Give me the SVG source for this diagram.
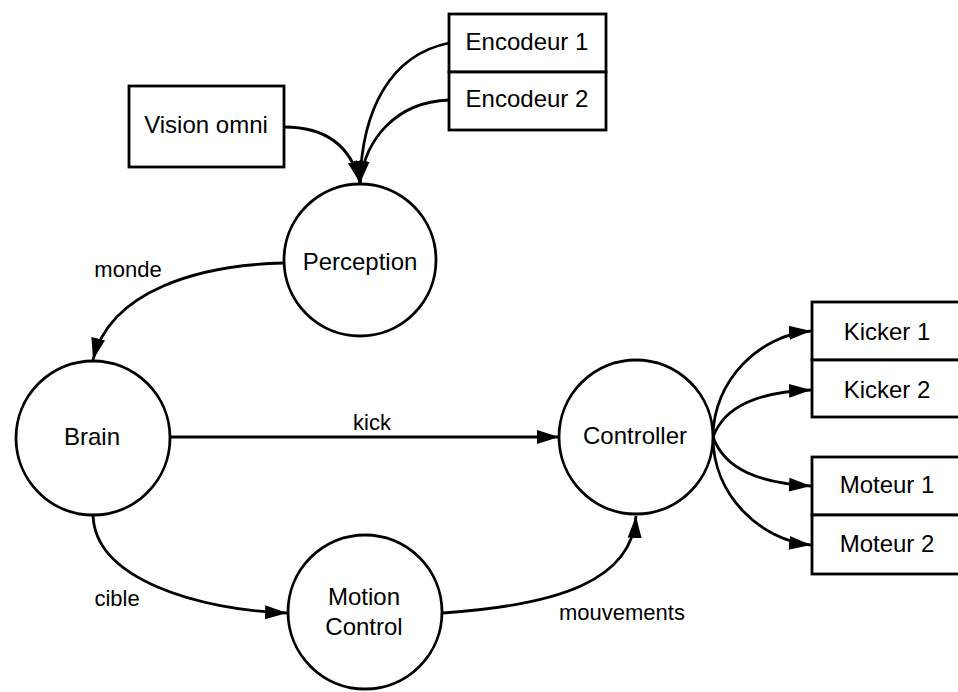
<svg xmlns="http://www.w3.org/2000/svg" width="958" height="692" viewBox="0 0 958 692">
<style>
.n{fill:#fff;stroke:#000;stroke-width:2.8}
.t{font-family:"Liberation Sans",Arial,sans-serif;font-size:24px;fill:#000;text-anchor:middle}
.l{font-family:"Liberation Sans",Arial,sans-serif;font-size:22px;fill:#000;text-anchor:middle}
.c{fill:none;stroke:#000;stroke-width:2.8}
</style>
<defs>
<marker id="a" markerUnits="userSpaceOnUse" markerWidth="24" markerHeight="16" refX="22" refY="8" orient="auto">
<path d="M0,1 L22,8 L0,15 z" fill="#000"/>
</marker>
</defs>
<rect width="958" height="692" fill="#fff"/>
<g id="connectors">
<path class="c" d="M449 43 C390 55 362 110 360 183" marker-end="url(#a)"/>
<path class="c" d="M449 100 C395 102 365 140 360 183" marker-end="url(#a)"/>
<path class="c" d="M284 127 C330 127 352 150 360 183" marker-end="url(#a)"/>
<path class="c" d="M284 263 C200 265 110 290 93 360" marker-end="url(#a)"/>
<path class="c" d="M170 437 L559 437" marker-end="url(#a)"/>
<path class="c" d="M93 515 C95 580 200 610 287 613" marker-end="url(#a)"/>
<path class="c" d="M443 613 C560 605 632 580 636 516" marker-end="url(#a)"/>
<path class="c" d="M713 437 C713 380 760 335 811 331" marker-end="url(#a)"/>
<path class="c" d="M713 437 C725 405 760 392 811 390" marker-end="url(#a)"/>
<path class="c" d="M713 437 C725 470 760 483 811 486" marker-end="url(#a)"/>
<path class="c" d="M713 437 C713 495 760 540 811 545" marker-end="url(#a)"/>
<text class="l" x="128" y="277">monde</text>
<text class="l" x="372" y="430">kick</text>
<text class="l" x="117" y="606">cible</text>
<text class="l" x="622" y="620">mouvements</text>
</g>
<g id="encodeur1"><rect class="n" x="449" y="14" width="157" height="58"/><text class="t" x="527" y="50">Encodeur 1</text></g>
<g id="encodeur2"><rect class="n" x="449" y="72" width="157" height="58"/><text class="t" x="527" y="107">Encodeur 2</text></g>
<g id="vision"><rect class="n" x="129" y="86" width="155" height="81"/><text class="t" x="206" y="133">Vision omni</text></g>
<g id="perception"><circle class="n" cx="360" cy="260" r="76"/><text class="t" x="360" y="270">Perception</text></g>
<g id="brain"><circle class="n" cx="93" cy="438" r="77"/><text class="t" x="92" y="445">Brain</text></g>
<g id="motion"><circle class="n" cx="365" cy="612" r="77"/><text class="t" x="364" y="605">Motion</text><text class="t" x="364" y="635">Control</text></g>
<g id="controller"><circle class="n" cx="636" cy="437" r="77"/><text class="t" x="635" y="444">Controller</text></g>
<g id="kicker1"><rect class="n" x="812" y="302" width="160" height="58"/><text class="t" x="887" y="340">Kicker 1</text></g>
<g id="kicker2"><rect class="n" x="812" y="360" width="160" height="57"/><text class="t" x="887" y="398">Kicker 2</text></g>
<g id="moteur1"><rect class="n" x="812" y="457" width="160" height="58"/><text class="t" x="887" y="493">Moteur 1</text></g>
<g id="moteur2"><rect class="n" x="812" y="515" width="160" height="59"/><text class="t" x="887" y="552">Moteur 2</text></g>
</svg>
